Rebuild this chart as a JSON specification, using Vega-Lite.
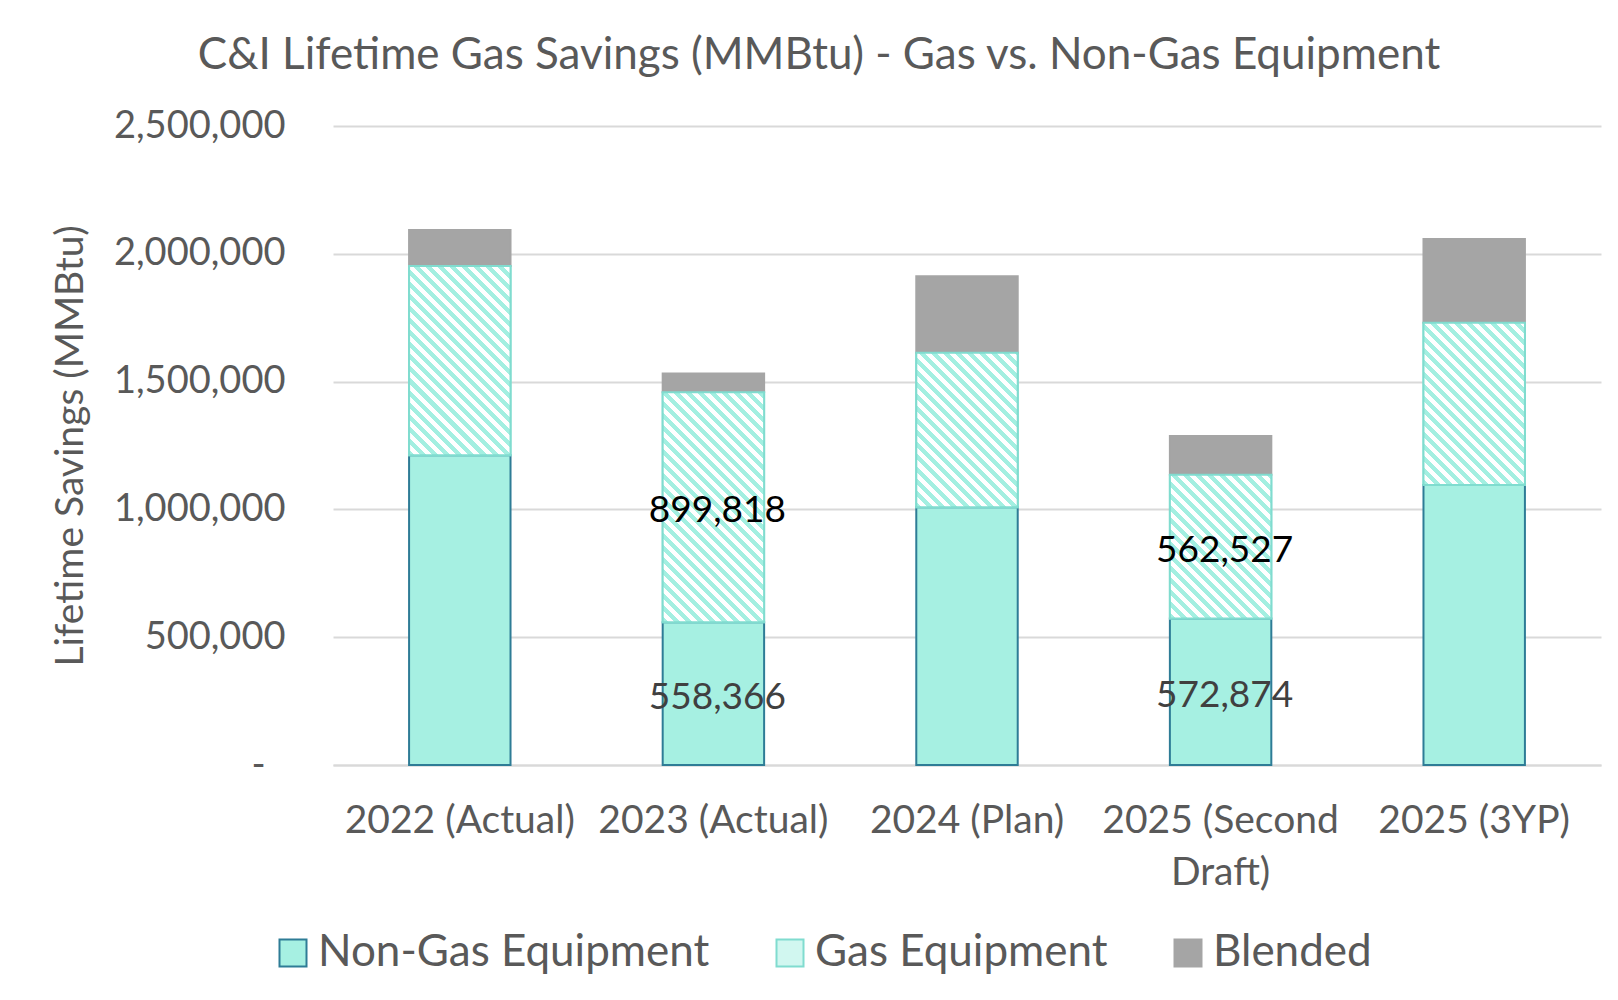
{
  "$schema": "https://vega.github.io/schema/vega-lite/v6.json",
  "width": 1268,
  "height": 639,
  "autosize": {"type": "none"},
  "padding": {"left": 333, "top": 126, "right": 17, "bottom": 235},
  "background": "white",
  "config": {"view": {"stroke": null}},
  "params": [
    {"name": "hatch", "value": [
      {"offset": 0, "color": "#a3efe1"},
      {"offset": 0.015, "color": "#a3efe1"}, {"offset": 0.015, "color": "#ffffff"},
      {"offset": 0.03, "color": "#ffffff"}, {"offset": 0.03, "color": "#a3efe1"},
      {"offset": 0.045, "color": "#a3efe1"}, {"offset": 0.045, "color": "#ffffff"},
      {"offset": 0.06, "color": "#ffffff"}, {"offset": 0.06, "color": "#a3efe1"},
      {"offset": 0.075, "color": "#a3efe1"}, {"offset": 0.075, "color": "#ffffff"},
      {"offset": 0.09, "color": "#ffffff"}, {"offset": 0.09, "color": "#a3efe1"},
      {"offset": 0.105, "color": "#a3efe1"}, {"offset": 0.105, "color": "#ffffff"},
      {"offset": 0.12, "color": "#ffffff"}, {"offset": 0.12, "color": "#a3efe1"},
      {"offset": 0.135, "color": "#a3efe1"}, {"offset": 0.135, "color": "#ffffff"},
      {"offset": 0.15, "color": "#ffffff"}, {"offset": 0.15, "color": "#a3efe1"},
      {"offset": 0.165, "color": "#a3efe1"}, {"offset": 0.165, "color": "#ffffff"},
      {"offset": 0.18, "color": "#ffffff"}, {"offset": 0.18, "color": "#a3efe1"},
      {"offset": 0.195, "color": "#a3efe1"}, {"offset": 0.195, "color": "#ffffff"},
      {"offset": 0.21, "color": "#ffffff"}, {"offset": 0.21, "color": "#a3efe1"},
      {"offset": 0.225, "color": "#a3efe1"}, {"offset": 0.225, "color": "#ffffff"},
      {"offset": 0.24, "color": "#ffffff"}, {"offset": 0.24, "color": "#a3efe1"},
      {"offset": 0.255, "color": "#a3efe1"}, {"offset": 0.255, "color": "#ffffff"},
      {"offset": 0.27, "color": "#ffffff"}, {"offset": 0.27, "color": "#a3efe1"},
      {"offset": 0.285, "color": "#a3efe1"}, {"offset": 0.285, "color": "#ffffff"},
      {"offset": 0.3, "color": "#ffffff"}, {"offset": 0.3, "color": "#a3efe1"},
      {"offset": 0.315, "color": "#a3efe1"}, {"offset": 0.315, "color": "#ffffff"},
      {"offset": 0.33, "color": "#ffffff"}, {"offset": 0.33, "color": "#a3efe1"},
      {"offset": 0.345, "color": "#a3efe1"}, {"offset": 0.345, "color": "#ffffff"},
      {"offset": 0.36, "color": "#ffffff"}, {"offset": 0.36, "color": "#a3efe1"},
      {"offset": 0.375, "color": "#a3efe1"}, {"offset": 0.375, "color": "#ffffff"},
      {"offset": 0.39, "color": "#ffffff"}, {"offset": 0.39, "color": "#a3efe1"},
      {"offset": 0.405, "color": "#a3efe1"}, {"offset": 0.405, "color": "#ffffff"},
      {"offset": 0.42, "color": "#ffffff"}, {"offset": 0.42, "color": "#a3efe1"},
      {"offset": 0.435, "color": "#a3efe1"}, {"offset": 0.435, "color": "#ffffff"},
      {"offset": 0.45, "color": "#ffffff"}, {"offset": 0.45, "color": "#a3efe1"},
      {"offset": 0.465, "color": "#a3efe1"}, {"offset": 0.465, "color": "#ffffff"},
      {"offset": 0.48, "color": "#ffffff"}, {"offset": 0.48, "color": "#a3efe1"},
      {"offset": 0.495, "color": "#a3efe1"}, {"offset": 0.495, "color": "#ffffff"},
      {"offset": 0.51, "color": "#ffffff"}, {"offset": 0.51, "color": "#a3efe1"},
      {"offset": 0.525, "color": "#a3efe1"}, {"offset": 0.525, "color": "#ffffff"},
      {"offset": 0.54, "color": "#ffffff"}, {"offset": 0.54, "color": "#a3efe1"},
      {"offset": 0.555, "color": "#a3efe1"}, {"offset": 0.555, "color": "#ffffff"},
      {"offset": 0.57, "color": "#ffffff"}, {"offset": 0.57, "color": "#a3efe1"},
      {"offset": 0.585, "color": "#a3efe1"}, {"offset": 0.585, "color": "#ffffff"},
      {"offset": 0.6, "color": "#ffffff"}, {"offset": 0.6, "color": "#a3efe1"},
      {"offset": 0.615, "color": "#a3efe1"}, {"offset": 0.615, "color": "#ffffff"},
      {"offset": 0.63, "color": "#ffffff"}, {"offset": 0.63, "color": "#a3efe1"},
      {"offset": 0.645, "color": "#a3efe1"}, {"offset": 0.645, "color": "#ffffff"},
      {"offset": 0.66, "color": "#ffffff"}, {"offset": 0.66, "color": "#a3efe1"},
      {"offset": 0.675, "color": "#a3efe1"}, {"offset": 0.675, "color": "#ffffff"},
      {"offset": 0.69, "color": "#ffffff"}, {"offset": 0.69, "color": "#a3efe1"},
      {"offset": 0.705, "color": "#a3efe1"}, {"offset": 0.705, "color": "#ffffff"},
      {"offset": 0.72, "color": "#ffffff"}, {"offset": 0.72, "color": "#a3efe1"},
      {"offset": 0.735, "color": "#a3efe1"}, {"offset": 0.735, "color": "#ffffff"},
      {"offset": 0.75, "color": "#ffffff"}, {"offset": 0.75, "color": "#a3efe1"},
      {"offset": 0.765, "color": "#a3efe1"}, {"offset": 0.765, "color": "#ffffff"},
      {"offset": 0.78, "color": "#ffffff"}, {"offset": 0.78, "color": "#a3efe1"},
      {"offset": 0.795, "color": "#a3efe1"}, {"offset": 0.795, "color": "#ffffff"},
      {"offset": 0.81, "color": "#ffffff"}, {"offset": 0.81, "color": "#a3efe1"},
      {"offset": 0.825, "color": "#a3efe1"}, {"offset": 0.825, "color": "#ffffff"},
      {"offset": 0.84, "color": "#ffffff"}, {"offset": 0.84, "color": "#a3efe1"},
      {"offset": 0.855, "color": "#a3efe1"}, {"offset": 0.855, "color": "#ffffff"},
      {"offset": 0.87, "color": "#ffffff"}, {"offset": 0.87, "color": "#a3efe1"},
      {"offset": 0.885, "color": "#a3efe1"}, {"offset": 0.885, "color": "#ffffff"}
    ]}
  ],
  "title": {
    "text": "C&I Lifetime Gas Savings (MMBtu) - Gas vs. Non-Gas Equipment",
    "font": "Lato",
    "fontSize": 44,
    "fontWeight": "normal",
    "color": "#595959",
    "anchor": "middle",
    "frame": "group",
    "baseline": "alphabetic",
    "offset": -6,
    "dx": -148
  },
  "data": {
    "values": [
      {"category": "2022 (Actual)", "series": "Non-Gas Equipment", "value": 1212000},
      {"category": "2022 (Actual)", "series": "Gas Equipment", "value": 740700},
      {"category": "2022 (Actual)", "series": "Blended", "value": 140800},
      {"category": "2023 (Actual)", "series": "Non-Gas Equipment", "value": 558366},
      {"category": "2023 (Actual)", "series": "Gas Equipment", "value": 899818},
      {"category": "2023 (Actual)", "series": "Blended", "value": 73700},
      {"category": "2024 (Plan)", "series": "Non-Gas Equipment", "value": 1008000},
      {"category": "2024 (Plan)", "series": "Gas Equipment", "value": 604500},
      {"category": "2024 (Plan)", "series": "Blended", "value": 300000},
      {"category": "2025 (Second Draft)", "series": "Non-Gas Equipment", "value": 572874},
      {"category": "2025 (Second Draft)", "series": "Gas Equipment", "value": 562527},
      {"category": "2025 (Second Draft)", "series": "Blended", "value": 151300},
      {"category": "2025 (3YP)", "series": "Non-Gas Equipment", "value": 1095000},
      {"category": "2025 (3YP)", "series": "Gas Equipment", "value": 634800},
      {"category": "2025 (3YP)", "series": "Blended", "value": 328500}
    ]
  },
  "encoding": {
    "x": {
      "field": "category",
      "type": "nominal",
      "sort": null,
      "scale": {"paddingInner": 0.6, "paddingOuter": 0.3},
      "axis": {
        "title": null,
        "labelAngle": 0,
        "labelFont": "Lato",
        "labelFontSize": 39,
        "labelColor": "#595959",
        "labelPadding": 36,
        "labelBaseline": "top",
        "labelLineHeight": 52,
        "labelLimit": 0,
        "ticks": false,
        "domain": true,
        "domainColor": "#d9d9d9",
        "domainWidth": 2,
        "labelExpr": "datum.label == '2025 (Second Draft)' ? ['2025 (Second', 'Draft)'] : datum.label"
      }
    }
  },
  "layer": [
    {
      "mark": {"type": "bar", "strokeWidth": 2},
      "encoding": {
        "y": {
          "field": "value",
          "type": "quantitative",
          "stack": "zero",
          "scale": {"domain": [0, 2500000], "nice": false},
          "title": "Lifetime Savings (MMBtu)",
          "axis": {
            "title": "Lifetime Savings (MMBtu)",
            "titleFont": "Lato",
            "titleFontSize": 39,
            "titleFontWeight": "normal",
            "titleColor": "#595959",
            "titlePadding": 43,
            "values": [0, 500000, 1000000, 1500000, 2000000, 2500000],
            "labelExpr": "datum.value == 0 ? '-' : format(datum.value, ',')",
            "labelFont": "Lato",
            "labelFontSize": 38,
            "labelColor": "#595959",
            "labelPadding": {"condition": {"test": "datum.value == 0", "value": 68}, "value": 48},
            "ticks": false,
            "domain": false,
            "grid": true,
            "gridColor": "#d9d9d9",
            "gridWidth": 2
          }
        },
        "color": {
          "field": "series",
          "type": "nominal",
          "scale": {
            "domain": ["Non-Gas Equipment", "Gas Equipment", "Blended"],
            "range": ["#a6f0e2", "#d1f7f0", "#a5a5a5"]
          },
          "legend": {
            "orient": "none",
            "legendX": -62,
            "legendY": 805,
            "direction": "horizontal",
            "title": null,
            "symbolType": "square",
            "symbolSize": 729,
            "symbolStrokeWidth": 2,
            "symbolOpacity": 1,
            "labelFont": "Lato",
            "labelFontSize": 44,
            "labelColor": "#595959",
            "labelOffset": 3,
            "labelLimit": 0,
            "columnPadding": 58,
            "encode": {
              "symbols": {
                "enter": {
                  "fill": {"signal": "datum.label == 'Gas Equipment' ? {gradient: 'linear', x1: 0, y1: 1, x2: 7.42, y2: -6.42, stops: hatch} : scale('color', datum.value)"}
                },
                "update": {
                  "fill": {"signal": "datum.label == 'Gas Equipment' ? {gradient: 'linear', x1: 0, y1: 1, x2: 7.42, y2: -6.42, stops: hatch} : scale('color', datum.value)"}
                }
              }
            }
          }
        },
        "stroke": {
          "field": "series",
          "type": "nominal",
          "scale": {
            "domain": ["Non-Gas Equipment", "Gas Equipment", "Blended"],
            "range": ["#2e7c96", "#80dccf", "#a5a5a5"]
          },
          "legend": null
        },
        "order": {"field": "series", "sort": "descending"}
      }
    },
    {
      "transform": [
        {"stack": "value", "groupby": ["category"], "sort": [{"field": "series", "order": "descending"}], "as": ["v0", "v1"]},
        {"filter": {"field": "series", "equal": "Gas Equipment"}}
      ],
      "mark": {
        "type": "bar",
        "stroke": "#80dccf",
        "strokeWidth": 2,
        "fill": {"expr": "{gradient: 'linear', x1: 0, y1: 1, x2: 400.7 * bandwidth('x') / (pow(bandwidth('x'), 2) + pow(scale('y', datum.v0) - scale('y', datum.v1), 2)), y2: 1 - 400.7 * (scale('y', datum.v0) - scale('y', datum.v1)) / (pow(bandwidth('x'), 2) + pow(scale('y', datum.v0) - scale('y', datum.v1), 2)), stops: hatch}"}
      },
      "encoding": {
        "y": {"field": "v1", "type": "quantitative", "title": "Lifetime Savings (MMBtu)", "scale": {"domain": [0, 2500000], "nice": false}},
        "y2": {"field": "v0"}
      }
    },
    {
      "transform": [
        {"stack": "value", "groupby": ["category"], "sort": [{"field": "series", "order": "descending"}], "as": ["v0", "v1"]},
        {"filter": {"field": "category", "oneOf": ["2023 (Actual)", "2025 (Second Draft)"]}},
        {"filter": {"field": "series", "oneOf": ["Non-Gas Equipment", "Gas Equipment"]}},
        {"fold": ["v0", "v1"], "as": ["k", "pos"]}
      ],
      "mark": {"type": "text", "font": "Lato", "fontSize": 37, "baseline": "middle", "align": "center", "dy": 4, "dx": 4},
      "encoding": {
        "y": {"aggregate": "mean", "field": "pos", "type": "quantitative", "stack": null, "title": "Lifetime Savings (MMBtu)", "scale": {"domain": [0, 2500000], "nice": false}},
        "detail": {"field": "series", "type": "nominal"},
        "text": {"aggregate": "max", "field": "value", "type": "quantitative", "format": ","},
        "color": {"condition": {"test": "datum.series == 'Gas Equipment'", "value": "#000000"}, "value": "#404040"}
      }
    }
  ]
}
